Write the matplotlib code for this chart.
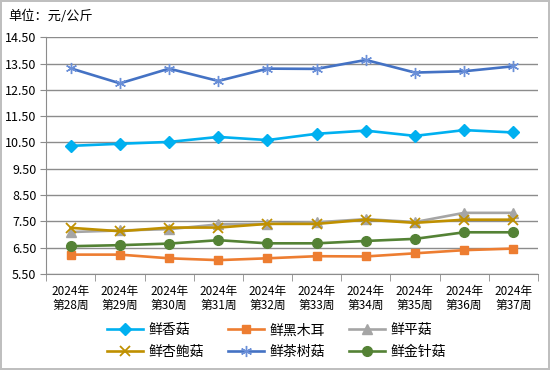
import matplotlib.pyplot as plt
from matplotlib.ticker import FixedLocator

plt.rcParams['font.family'] = ['Noto Sans CJK SC', 'DejaVu Sans']

weeks = ['2024年\n第28周', '2024年\n第29周', '2024年\n第30周', '2024年\n第31周', '2024年\n第32周',
         '2024年\n第33周', '2024年\n第34周', '2024年\n第35周', '2024年\n第36周', '2024年\n第37周']

xianggu = [10.37, 10.45, 10.52, 10.71, 10.59, 10.83, 10.95, 10.75, 10.97, 10.88]
heimuer = [6.23, 6.23, 6.09, 6.02, 6.09, 6.17, 6.16, 6.28, 6.40, 6.46]
pinggu = [7.09, 7.15, 7.20, 7.38, 7.40, 7.46, 7.58, 7.47, 7.82, 7.82]
xingbaogu = [7.25, 7.12, 7.26, 7.26, 7.40, 7.40, 7.56, 7.44, 7.56, 7.56]
chashugu = [13.32, 12.75, 13.31, 12.84, 13.31, 13.30, 13.64, 13.16, 13.21, 13.40]
jinzhengu = [6.55, 6.59, 6.65, 6.78, 6.66, 6.66, 6.75, 6.83, 7.08, 7.08]

yticks = [5.5, 6.5, 7.5, 8.5, 9.5, 10.5, 11.5, 12.5, 13.5, 14.5]

fig = plt.figure(figsize=(5.5, 3.7), dpi=100)
fig.patch.set_edgecolor('#BFBFBF')
fig.patch.set_linewidth(1.5)
ax = fig.add_axes([0.084, 0.26, 0.894, 0.639])

x = list(range(len(weeks)))
lw = 1.9
l1, = ax.plot(x, xianggu, color='#00B0F0', marker='D', markersize=6, lw=lw, label='鲜香菇')
l2, = ax.plot(x, heimuer, color='#ED7D31', marker='s', markersize=6, lw=lw, label='鲜黑木耳')
l3, = ax.plot(x, pinggu, color='#A5A5A5', marker='^', markersize=7, lw=lw, label='鲜平菇')
l4, = ax.plot(x, xingbaogu, color='#BF9000', marker='x', markersize=7, mew=1.3, lw=lw, label='鲜杏鲍菇')
l5, = ax.plot(x, chashugu, color='#4472C4', marker=(6, 2, 0), markersize=8, mew=1.0,
              markeredgecolor='#6A8FD8', lw=lw, label='鲜茶树菇')
l6, = ax.plot(x, jinzhengu, color='#548235', marker='o', markersize=7, lw=lw, label='鲜金针菇')

ax.set_xlim(-0.5, 9.5)
ax.set_ylim(5.5, 14.5)
ax.set_yticks(yticks)
ax.set_yticklabels(['%.2f' % v for v in yticks], fontsize=9)
ax.yaxis.grid(True, color='#8C8C8C', lw=1)
ax.set_axisbelow(True)

ax.set_xticks(x)
ax.set_xticklabels(weeks, fontsize=8.5, linespacing=1.1)
ax.xaxis.set_minor_locator(FixedLocator([i - 0.5 for i in range(11)]))
ax.tick_params(axis='x', which='major', length=0, pad=8)
ax.tick_params(axis='x', which='minor', length=5, color='#8C8C8C')
ax.tick_params(axis='y', length=4, color='#8C8C8C', pad=3)

for s in ['top', 'right']:
    ax.spines[s].set_visible(False)
for s in ['left', 'bottom']:
    ax.spines[s].set_color('#8C8C8C')

fig.text(0.015, 0.955, '单位：元/公斤', fontsize=9.5, va='center')

handles = [l1, l4, l2, l5, l3, l6]
fig.legend(handles=handles, labels=[h.get_label() for h in handles], ncol=3,
           loc='center', bbox_to_anchor=(0.503, 0.078), frameon=False, fontsize=10,
           handlelength=2.6, columnspacing=1.7, labelspacing=0.55, handletextpad=0.4)

fig.savefig('out.png', dpi=100, edgecolor=fig.get_edgecolor())
